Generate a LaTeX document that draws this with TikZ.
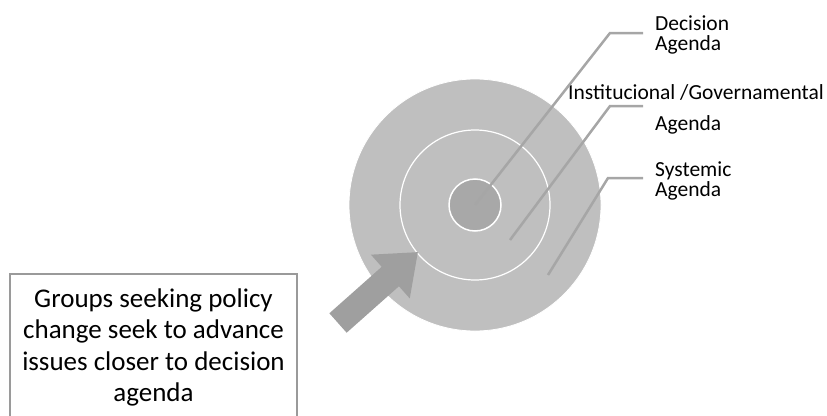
\documentclass[tikz,border=0pt]{standalone}
\usepackage{fontspec}
\setmainfont{Carlito}
\usetikzlibrary{arrows.meta}
\definecolor{ringgray}{HTML}{BFBFBF}
\definecolor{dotgray}{HTML}{A8A8A8}
\definecolor{leadgray}{HTML}{A6A6A6}
\definecolor{pushgray}{HTML}{9F9F9F}
\definecolor{boxgray}{HTML}{9A9A9A}
\begin{document}
\begin{tikzpicture}[x=1pt,y=-1pt,
  leader/.style={draw=leadgray,line width=2.5pt},
  lbl/.style={anchor=west,align=left,inner sep=0pt,font=\fontsize{21.5}{20.5}\selectfont}]
\useasboundingbox (0,0) rectangle (827,415);
%diana%
\node[circle,fill=ringgray,draw=white,line width=.8pt,inner sep=0pt,minimum size=252pt] (outer) at (475,205) {};
\node[circle,draw=white,line width=1.2pt,inner sep=0pt,minimum size=150pt] (middle) at (outer.center) {};
\node[circle,fill=dotgray,draw=white,line width=1.5pt,inner sep=0pt,minimum size=52pt] (inner) at (outer.center) {};
%etiquetas%
\node[lbl] (dec) at (655,35) {Decision\\Agenda};
\node[lbl] (inst) at (568,92) {Institucional /Governamental};
\node[lbl] (instag) at (655,125) {Agenda};
\node[lbl] (sys) at (655,181) {Systemic\\Agenda};
%lineas%
\coordinate (instfoot) at (510,240);
\coordinate (sysfoot) at (548,275);
\coordinate (decend) at (643,33);
\coordinate (instend) at (643,106);
\coordinate (sysend) at (643,178);
\draw[leader] (inner.center) -- (610,33) -- (decend);
\draw[leader] (instfoot) -- (610,106) -- (instend);
\draw[leader] (sysfoot) -- (608,178) -- (sysend);
%flecha%
\coordinate (push) at (338,323);
\coordinate (pushtip) at (418,252);
\draw[draw=pushgray,line width=26pt,-{Triangle[length=37pt,width=56pt]}] (push) -- (pushtip);
%grupos%
\node[draw=boxgray,line width=1.5pt,minimum width=287pt,minimum height=147pt,align=center,
  font=\fontsize{27}{31.5}\selectfont] (groups) at (153.5,347.5)
  {Groups seeking policy\\change seek to advance\\issues closer to decision\\agenda};
\end{tikzpicture}
\end{document}
